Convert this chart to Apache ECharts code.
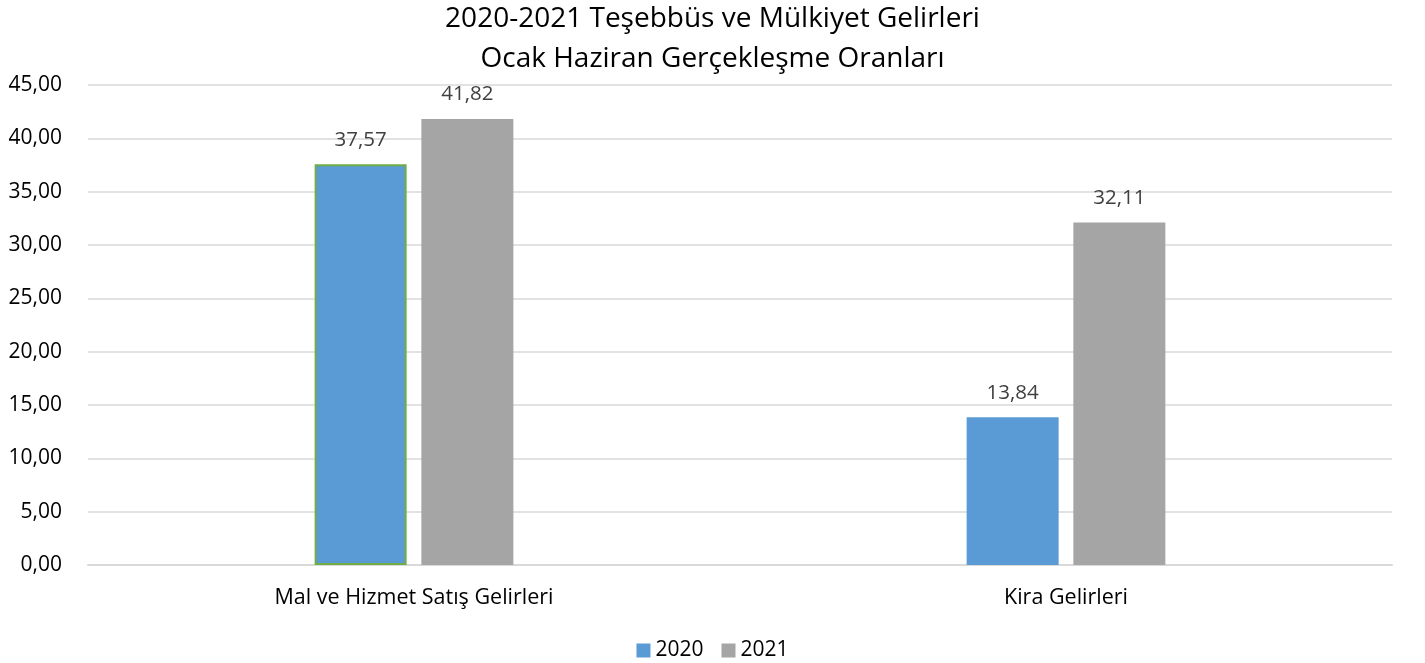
<!DOCTYPE html>
<html>
<head>
<meta charset="utf-8">
<script src="https://cdn.jsdelivr.net/npm/echarts@6/dist/echarts.min.js"></script>
<style>
html,body{margin:0;padding:0;background:#fff;}
#chart{width:1425px;height:663px;}
</style>
</head>
<body>
<div id="chart"></div>
<script>
const titleLines = ['2020-2021 Teşebbüs ve Mülkiyet Gelirleri', 'Ocak Haziran Gerçekleşme Oranları'];
const categories = ['Mal ve Hizmet Satış Gelirleri', 'Kira Gelirleri'];
const seriesNames = ['2020', '2021'];
const values2020 = [37.57, 13.84];
const values2021 = [41.82, 32.11];
const yMin = 0, yMax = 45, yStep = 5;

const FONT = 'Open Sans';
const fmt = v => Number(v).toFixed(2).replace('.', ',');

const chart = echarts.init(document.getElementById('chart'), null, {renderer: 'canvas'});
chart.setOption({
  animation: false,
  backgroundColor: '#ffffff',
  textStyle: {fontFamily: FONT},
  title: {
    text: titleLines.join('\n'),
    left: 'center',
    top: -6,
    textStyle: {fontFamily: FONT, fontSize: 28, fontWeight: 'normal', color: '#000000', lineHeight: 40}
  },
  legend: {
    top: 635,
    left: 'center',
    itemWidth: 14,
    itemHeight: 14,
    itemGap: 18,
    icon: 'rect',
    textStyle: {fontFamily: FONT, fontSize: 21, color: '#000000'},
    data: seriesNames
  },
  grid: {left: 88, right: 33, top: 85, bottom: 98, containLabel: false},
  xAxis: {
    type: 'category',
    data: categories,
    axisLine: {lineStyle: {color: '#D9D9D9', width: 2}},
    axisTick: {show: false},
    axisLabel: {fontFamily: FONT, fontSize: 21.5, color: '#000000', margin: 22}
  },
  yAxis: {
    type: 'value',
    min: yMin, max: yMax, interval: yStep,
    axisLine: {show: false},
    axisTick: {show: false},
    splitLine: {lineStyle: {color: '#D9D9D9', width: 1.5}},
    axisLabel: {fontFamily: FONT, fontSize: 21, color: '#000000', margin: 26, formatter: fmt}
  },
  series: [
    {
      name: seriesNames[0],
      type: 'bar',
      barWidth: 92,
      barGap: '16%',
      itemStyle: {color: '#5B9BD5'},
      label: {show: true, position: 'top', distance: 14, fontFamily: FONT, fontSize: 20.5, color: '#404040', formatter: p => fmt(p.value)},
      data: values2020.map((v, i) => i === 0 ? {value: v, itemStyle: {borderColor: '#70AD47', borderWidth: 2}} : v)
    },
    {
      name: seriesNames[1],
      type: 'bar',
      barWidth: 92,
      barGap: '16%',
      itemStyle: {color: '#A5A5A5'},
      label: {show: true, position: 'top', distance: 14, fontFamily: FONT, fontSize: 20.5, color: '#404040', formatter: p => fmt(p.value)},
      data: values2021
    }
  ]
});
</script>
</body>
</html>
